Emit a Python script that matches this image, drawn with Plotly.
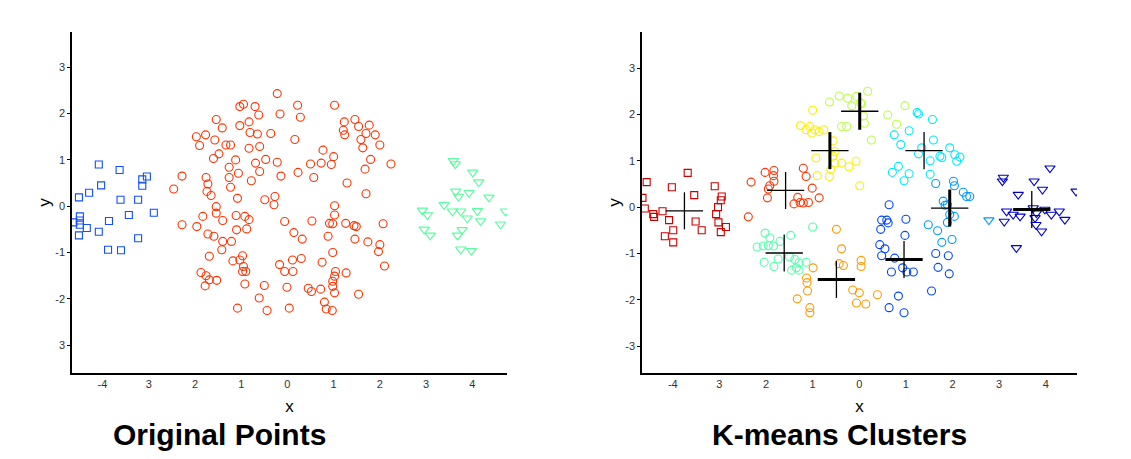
import plotly.graph_objects as go

# ---------------- Left panel: original points ----------------
orig_squares = [(-4.08, 0.90), (-3.63, 0.78), (-4.51, 0.19), (-4.29, 0.29), (-4.03, 0.45),
                (-3.14, 0.58), (-3.04, 0.64), (-3.14, 0.44), (-3.61, 0.14), (-3.23, 0.14),
                (-2.89, -0.14), (-4.49, -0.22), (-4.49, -0.31), (-4.63, -0.35), (-4.49, -0.40),
                (-4.34, -0.47), (-3.86, -0.32), (-3.43, -0.19), (-4.51, -0.63), (-4.08, -0.55),
                (-3.23, -0.69), (-3.88, -0.94), (-3.60, -0.95)]

orig_circles = [(-0.22, 2.43), (0.22, 2.18), (1.02, 2.18), (-1.03, 2.15), (-0.95, 2.20), (-0.70, 2.15),
                (-0.62, 1.97), (-0.16, 1.99), (0.28, 1.92), (-1.54, 1.87), (-1.41, 1.69), (-1.03, 1.74),
                (-0.83, 1.82), (-0.81, 1.59), (-0.65, 1.56), (-0.36, 1.57), (0.16, 1.44), (-1.97, 1.50),
                (-1.77, 1.54), (-1.90, 1.31), (-1.57, 1.43), (-1.33, 1.32), (-1.23, 1.32), (-0.83, 1.25),
                (-0.60, 1.29), (0.77, 1.21), (1.00, 1.07), (1.23, 1.82), (1.46, 1.87), (1.54, 1.72),
                (1.21, 1.64), (1.24, 1.54), (1.77, 1.75), (1.70, 1.57), (1.90, 1.54), (1.59, 1.44),
                (1.63, 1.26), (2.00, 1.32), (1.80, 1.01), (1.68, 0.80), (2.24, 0.91), (-1.60, 1.03),
                (-1.48, 1.13), (-1.12, 1.00), (-1.26, 0.84), (-1.06, 0.71), (-1.26, 0.62), (-1.23, 0.41),
                (-0.69, 0.93), (-0.47, 1.01), (-0.22, 0.95), (-0.60, 0.75), (-0.78, 0.55), (-0.14, 0.65),
                (0.23, 0.73), (0.50, 0.91), (0.73, 0.93), (0.95, 0.90), (0.57, 0.62), (1.29, 0.50),
                (1.70, 0.27), (-2.28, 0.65), (-2.46, 0.37), (-1.76, 0.62), (-1.72, 0.48), (-1.74, 0.32),
                (-1.65, 0.23), (-1.08, 0.17), (-0.49, 0.14), (-0.27, 0.21), (-0.29, 0.03), (-1.54, -0.01),
                (-1.54, -0.15), (-1.83, -0.22), (-1.40, -0.31), (-1.11, -0.20), (-0.92, -0.22), (-0.83, -0.29),
                (-0.88, -0.49), (-1.10, -0.51), (-2.28, -0.40), (-1.96, -0.44), (-1.72, -0.60), (-1.59, -0.65),
                (-1.40, -0.76), (-1.21, -0.76), (-1.42, -0.94), (-1.69, -1.08), (-0.06, -0.33), (0.53, -0.32),
                (0.14, -0.57), (0.32, -0.71), (1.02, 0.01), (1.02, -0.19), (0.91, -0.37), (0.98, -0.38),
                (1.26, -0.37), (1.44, -0.42), (1.49, -0.44), (2.07, -0.38), (0.88, -0.65), (1.46, -0.71),
                (1.74, -0.77), (2.00, -0.83), (1.97, -0.98), (0.98, -1.00), (-1.18, -1.18), (-1.03, -1.16),
                (-0.97, -1.07), (-0.95, -1.30), (-0.90, -1.41), (-0.97, -1.41), (-1.87, -1.43), (-1.76, -1.50),
                (-1.69, -1.59), (-1.53, -1.60), (-1.78, -1.72), (-0.17, -1.26), (0.11, -1.16), (0.30, -1.13),
                (-0.06, -1.41), (0.12, -1.41), (0.75, -1.21), (1.04, -1.41), (1.02, -1.51), (1.27, -1.44),
                (0.98, -1.62), (0.98, -1.73), (1.02, -1.87), (2.10, -1.29), (1.54, -1.90), (-0.92, -1.68),
                (-0.50, -1.71), (-0.01, -1.75), (0.45, -1.77), (0.52, -1.84), (0.72, -1.79), (-0.61, -1.98),
                (-1.08, -2.20), (-0.44, -2.25), (0.04, -2.20), (0.80, -2.07), (0.84, -2.22), (0.97, -2.25)]

orig_triangles = [(3.59, 0.98), (3.63, 0.91), (4.01, 0.73), (4.14, 0.52), (3.64, 0.32), (3.70, 0.21),
                  (3.93, 0.29), (4.36, 0.19), (3.39, 0.03), (3.57, -0.11), (3.75, -0.11), (4.11, -0.10),
                  (3.89, -0.26), (4.18, -0.32), (4.72, -0.11), (4.61, -0.39), (2.92, -0.09), (3.03, -0.19),
                  (2.96, -0.50), (3.09, -0.63), (3.78, -0.51), (3.68, -0.63), (3.75, -0.93), (3.98, -0.96)]

# ---------------- Right panel: K-means clusters ----------------
km_c1_squares = [(-4.56, 0.54), (-4.65, 0.20), (-4.60, -0.03), (-4.42, -0.15), (-4.40, -0.21), (-4.22, -0.09),
                 (-4.08, -0.28), (-4.02, 0.43), (-3.68, 0.74), (-3.54, 0.26), (-3.51, -0.31), (-3.38, -0.50),
                 (-3.99, -0.50), (-4.17, -0.63), (-3.99, -0.76), (-3.10, 0.45), (-2.95, 0.23), (-2.97, 0.15),
                 (-3.03, 0.00), (-3.07, -0.15), (-3.02, -0.33), (-2.86, -0.43), (-2.97, -0.54)]
km_c2 = [(-2.32, 0.54), (-2.38, -0.21), (-2.02, 0.75), (-1.83, 0.79), (-1.84, 0.68), (-1.83, 0.56),
         (-1.92, 0.46), (-1.95, 0.39), (-1.97, 0.20), (-1.20, 0.84), (-1.14, 0.66), (-1.01, 0.41),
         (-0.86, 0.20), (-1.32, 0.21), (-1.27, 0.10), (-1.40, 0.07), (-1.09, 0.10), (-1.20, 0.09)]
km_c3 = [(-1.00, 2.09), (-1.26, 1.76), (-1.14, 1.67), (-1.06, 1.74), (-1.02, 1.60), (-0.95, 1.67),
         (-0.86, 1.63), (-0.76, 1.67), (-0.56, 1.43), (-0.52, 1.20), (-0.57, 1.10), (-0.93, 1.06),
         (-0.52, 0.95), (-0.38, 0.95), (-0.22, 0.87), (-0.07, 0.99), (-0.90, 0.68), (-0.64, 0.66),
         (-0.61, 0.81), (0.01, 0.46)]
km_c4 = [(-0.64, 2.27), (-0.43, 2.40), (-0.25, 2.35), (-0.06, 2.39), (0.18, 2.50), (-0.16, 2.19),
         (0.03, 2.25), (0.09, 1.97), (0.11, 1.81), (-0.38, 1.74), (-0.27, 1.74), (0.26, 1.45),
         (0.05, 2.23), (0.98, 2.19), (0.61, 1.99), (0.80, 1.79)]
km_c5 = [(1.24, 2.04), (1.27, 2.01), (1.57, 1.89), (1.07, 1.65), (0.75, 1.56), (0.89, 1.35), (1.59, 1.45),
         (1.34, 1.28), (1.27, 1.15), (1.52, 1.00), (1.73, 1.10), (1.94, 1.28), (2.05, 1.13), (2.16, 1.08),
         (2.09, 0.99), (1.77, 1.07), (0.84, 0.88), (0.71, 0.75), (1.07, 0.72), (0.96, 0.57), (1.52, 0.71)]
km_c6 = [(1.64, 0.51), (2.02, 0.56), (2.04, 0.46), (2.23, 0.32), (2.30, 0.23), (2.37, 0.23), (1.80, 0.13),
         (1.84, 0.04), (1.89, 0.05), (1.94, -0.16), (2.04, -0.20), (1.89, -0.33), (1.48, -0.38),
         (1.68, -0.51), (1.77, -0.76), (1.99, -0.70)]
km_c6_triangles = [(2.78, -0.28)]
km_c7 = [(0.64, 0.05), (0.48, -0.28), (0.59, -0.28), (0.62, -0.34), (0.46, -0.48), (1.00, -0.26),
         (0.98, -0.61), (0.44, -0.81), (0.55, -0.90), (0.48, -1.05), (0.76, -1.10), (0.69, -1.40),
         (0.93, -1.31), (1.02, -1.40), (1.16, -1.40), (0.84, -1.92), (0.64, -2.17), (0.96, -2.28),
         (1.55, -1.81), (1.64, -1.00), (1.91, -1.05), (1.69, -1.30), (1.93, -1.44)]
km_c8 = [(-0.49, -0.48), (-0.38, -0.90), (-0.43, -1.22), (-0.34, -1.26), (0.04, -1.15), (0.04, -1.28),
         (-0.99, -1.31), (-1.13, -1.53), (-1.12, -1.63), (-1.11, -1.81), (-1.33, -1.98), (-1.06, -2.17),
         (-1.06, -2.28), (-0.14, -1.79), (0.00, -1.85), (-0.06, -2.07), (0.14, -2.09), (0.39, -1.89)]
km_c9 = [(-1.00, -0.43), (-1.47, -0.61), (-2.02, -0.56), (-1.92, -0.66), (-1.70, -0.74), (-1.84, -0.84),
         (-2.19, -0.86), (-2.06, -0.84), (-1.95, -0.83), (-1.74, -1.12), (-2.04, -1.19), (-1.83, -1.28),
         (-1.50, -1.07), (-1.38, -1.13), (-1.29, -1.20), (-1.14, -1.19), (-1.45, -1.36), (-1.29, -1.36),
         (-1.35, -1.31)]
km_c10_triangles = [(4.09, 0.84), (3.09, 0.64), (3.07, 0.56), (3.75, 0.56), (3.93, 0.38), (3.41, 0.27),
                    (4.65, 0.34), (3.16, -0.09), (3.30, -0.16), (3.45, -0.20), (3.11, -0.31), (3.80, -0.13),
                    (3.77, -0.23), (3.79, -0.38), (3.91, -0.52), (4.29, -0.09), (4.41, -0.27), (4.12, -0.16),
                    (3.73, -0.02), (3.37, -0.88), (3.98, -0.05)]

# centroids: x, y, horizontal arm thick?, vertical arm thick?
centroid_x = [-3.75, -1.58, -0.63, 0.01, 1.39, 1.94, 0.96, -0.49, -1.61, 3.70]
centroid_y = [-0.08, 0.36, 1.22, 2.07, 1.22, -0.02, -1.13, -1.56, -0.99, -0.05]
centroid_thick_h = [False, False, False, False, False, False, True, True, False, True]
centroid_thick_v = [False, False, True, True, False, True, False, False, False, False]

x_tickvals = [-4, -3, -2, -1, 0, 1, 2, 3, 4]
y_tickvals = [3, 2, 1, 0, -1, -2, -3]
left_x_ticktext = ["-4", "3", "2", "1", "0", "1", "2", "3", "4"]
right_x_ticktext = ["-4", "3", "2", "1", "0", "1", "2", "3", "4"]
left_y_ticktext = ["3", "2", "1", "0", "-1", "-2", "3"]
right_y_ticktext = ["3", "2", "1", "0", "-1", "-2", "-3"]

ARM = 0.4

# the page body adds an 8 px offset; lay out in screen pixels
OFF = 8
W, H = 1131 - OFF, 459 - OFF


def px_x(sx):
    return (sx - OFF) / W


def px_y(sy):
    return 1 - (sy - OFF) / H


def xs(pts):
    return [p[0] for p in pts]


def ys(pts):
    return [p[1] for p in pts]


fig = go.Figure()


def add_pts(pts, symbol, color, size, xa, ya, lw=1.1):
    fig.add_trace(go.Scatter(x=xs(pts), y=ys(pts), mode="markers", xaxis=xa, yaxis=ya,
                             marker=dict(symbol=symbol, size=size, color=color,
                                         line=dict(color=color, width=lw)),
                             showlegend=False, hoverinfo="x+y"))


SQ, CI, TR = "square-open", "circle-open", "triangle-down-open"

# left
add_pts(orig_squares, SQ, "#1250FF", 7, "x", "y")
add_pts(orig_circles, CI, "#FF3300", 8, "x", "y")
add_pts(orig_triangles, TR, "#55FF9C", 9, "x", "y")

# right
add_pts(km_c1_squares, SQ, "#CC0000", 7, "x2", "y2")
add_pts(km_c2, CI, "#FF3300", 8, "x2", "y2")
add_pts(km_c3, CI, "#FFEE00", 8, "x2", "y2")
add_pts(km_c4, CI, "#BBFF44", 8, "x2", "y2")
add_pts(km_c5, CI, "#00E8FF", 8, "x2", "y2")
add_pts(km_c6, CI, "#0099FF", 8, "x2", "y2")
add_pts(km_c6_triangles, TR, "#0099FF", 9, "x2", "y2")
add_pts(km_c7, CI, "#0044FF", 8, "x2", "y2")
add_pts(km_c8, CI, "#FF9900", 8, "x2", "y2")
add_pts(km_c9, CI, "#55FFAA", 8, "x2", "y2")
add_pts(km_c10_triangles, TR, "#0000CC", 9, "x2", "y2")

# centroid crosses
for thick in (False, True):
    lx, ly = [], []
    for cx, cy, th, tv in zip(centroid_x, centroid_y, centroid_thick_h, centroid_thick_v):
        if th == thick:
            lx += [cx - ARM, cx + ARM, None]
            ly += [cy, cy, None]
        if tv == thick:
            lx += [cx, cx, None]
            ly += [cy - ARM, cy + ARM, None]
    fig.add_trace(go.Scatter(x=lx, y=ly, mode="lines", xaxis="x2", yaxis="y2",
                             line=dict(color="black", width=3 if thick else 1.3),
                             showlegend=False, hoverinfo="skip"))

tickfont = dict(family="Liberation Sans, Arial, sans-serif", size=11, color="#333333")
titlefont = dict(family="Liberation Sans, Arial, sans-serif", size=17, color="black")
y_dom = [px_y(373), px_y(32)]

common_x = dict(showgrid=False, zeroline=False, showline=True, linecolor="black", linewidth=1.5,
                tickmode="array", tickvals=x_tickvals, ticks="", tickfont=tickfont,
                title=dict(text="x", font=titlefont, standoff=11))
common_y = dict(showgrid=False, zeroline=False, showline=True, linecolor="black", linewidth=1.5,
                tickmode="array", tickvals=y_tickvals, ticks="outside", ticklen=3, tickcolor="black",
                tickfont=tickfont, title=dict(text="y", font=titlefont, standoff=0))

title_font = dict(family="Liberation Sans, Arial, sans-serif", size=30, color="black")

fig.update_layout(
    width=W, height=H,
    margin=dict(l=0, r=0, t=0, b=0),
    paper_bgcolor="white", plot_bgcolor="white",
    xaxis=dict(common_x, domain=[px_x(72), px_x(507)], range=[-4.66, 4.75], anchor="y",
               ticktext=left_x_ticktext),
    yaxis=dict(common_y, domain=y_dom, range=[-3.6, 3.76], anchor="x", ticktext=left_y_ticktext),
    xaxis2=dict(common_x, domain=[px_x(642), px_x(1077)], range=[-4.66, 4.67], anchor="y2",
                ticktext=right_x_ticktext),
    yaxis2=dict(common_y, domain=y_dom, range=[-3.58, 3.78], anchor="x2", ticktext=right_y_ticktext),
    annotations=[
        dict(text="<b>Original Points</b>", x=px_x(219), y=px_y(434), xref="paper", yref="paper",
             showarrow=False, xanchor="center", yanchor="middle", font=title_font),
        dict(text="<b>K-means Clusters</b>", x=px_x(839), y=px_y(434), xref="paper", yref="paper",
             showarrow=False, xanchor="center", yanchor="middle", font=title_font),
    ],
)

fig.write_html("out.html")
